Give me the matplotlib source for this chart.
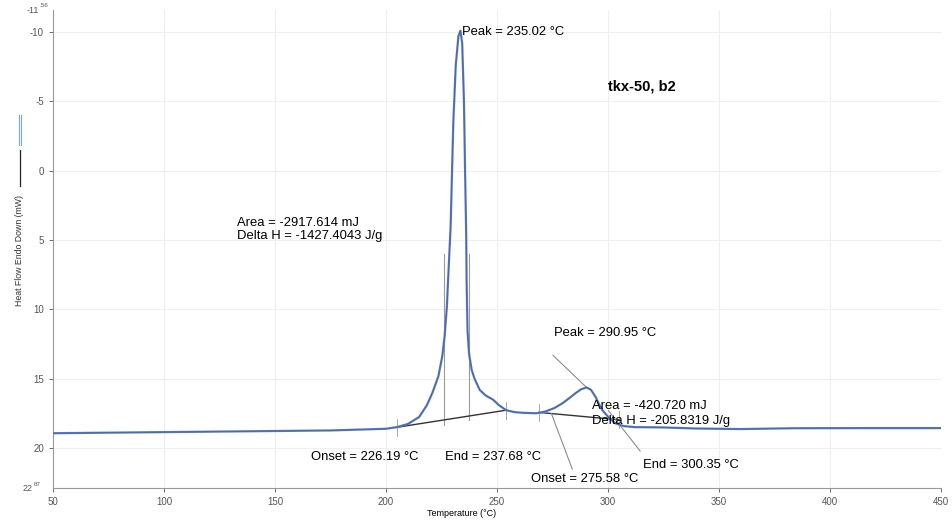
import matplotlib
matplotlib.use("Agg")
import matplotlib.pyplot as plt
from matplotlib.lines import Line2D

plt.rcParams['font.family'] = ['Liberation Sans', 'DejaVu Sans']
plt.rcParams['axes.unicode_minus'] = False

# DSC trace (temperature in C, heat flow in mW)
temperature = [50, 75, 100, 125, 150, 175, 200, 205, 210, 215, 218.5, 221, 223.7,
               225.5, 226.5, 227.5, 228.2, 229.2, 230.4, 231.5, 232.7, 233.6,
               234.4, 235.2, 235.7, 236.2, 236.4, 236.8, 237.5, 238.7, 240, 242.3,
               245, 248.3, 251, 254.2, 258, 262, 267.7, 269, 272, 276, 279.7, 283,
               285.5, 288, 290.5, 292.5, 294.5, 296, 297.6, 300.5, 303.4, 307, 312,
               324, 340, 360, 384, 420, 450]
heat_flow = [18.92, 18.88, 18.84, 18.8, 18.76, 18.72, 18.6, 18.48, 18.25, 17.75, 16.9,
             16.0, 14.8, 13.3, 11.9, 9.8, 7.35, 4.0, -3.5, -7.6, -9.7, -10.1,
             -9.2, -5.0, 0.0, 4.5, 8.0, 11.5, 13.2, 14.37, 15.0, 15.8,
             16.2, 16.5, 16.9, 17.26, 17.4, 17.45, 17.48, 17.45, 17.35, 17.1, 16.75, 16.35,
             16.03, 15.75, 15.62, 15.8, 16.3, 16.8, 17.26, 17.8, 18.2, 18.4, 18.48,
             18.5, 18.58, 18.62, 18.56, 18.55, 18.55]

# integration baselines
base1_t = [205.1, 254.2]
base1_h = [18.49, 17.26]
base2_t = [269.0, 305.0]
base2_h = [17.42, 17.95]

# onset / end markers of the first peak
marker_t = [226.19, 237.68]
marker_h = [18.3, 17.95]

x_ticks = [50, 100, 150, 200, 250, 300, 350, 400, 450]
y_ticks = [-10, -5, 0, 5, 10, 15, 20]

fig = plt.figure(figsize=(9.52, 5.21), dpi=100)
ax = fig.add_axes([0.0557, 0.0633, 0.9323, 0.9167])

ax.plot(temperature, heat_flow, color='#5a7cc2', lw=1.6, zorder=3)
ax.plot(temperature, heat_flow, color='#3a4f86', lw=0.5, alpha=0.6, zorder=3)

ax.plot(base1_t, base1_h, color='#333333', lw=1.0, zorder=2)
ax.plot(base2_t, base2_h, color='#333333', lw=1.0, zorder=2)

for t, h in zip(marker_t, marker_h):
    ax.plot([t, t], [h, 6.0], color='#9a9a9a', lw=0.8, zorder=1)

# little limit ticks
for t, h in zip(base1_t + base2_t, base1_h + base2_h):
    ax.plot([t, t], [h - 0.6, h + 0.6], color='#aaaaaa', lw=0.7, zorder=1)

# leader lines
lead = '#8c8c8c'
ax.plot([275.3, 290.3], [13.3, 15.6], color=lead, lw=0.8)
ax.plot([314.6, 300.35], [20.2, 17.3], color=lead, lw=0.8)
ax.plot([284.0, 274.6], [21.5, 17.5], color=lead, lw=0.8)

fs = 9.4
ax.text(234.4, -10.0, 'Peak = 235.02 °C', fontsize=fs, va='center', ha='left')
ax.text(300.3, -6.1, 'tkx-50, b2', fontsize=10.5, fontweight='bold', va='center')
ax.text(132.7, 3.74, 'Area = -2917.614 mJ', fontsize=fs, va='center')
ax.text(132.7, 4.7, 'Delta H = -1427.4043 J/g', fontsize=fs, va='center')
ax.text(275.7, 11.7, 'Peak = 290.95 °C', fontsize=fs, va='center')
ax.text(293.1, 16.97, 'Area = -420.720 mJ', fontsize=fs, va='center')
ax.text(293.1, 18.05, 'Delta H = -205.8319 J/g', fontsize=fs, va='center')
ax.text(166.2, 20.66, 'Onset = 226.19 °C', fontsize=fs, va='center')
ax.text(226.5, 20.66, 'End = 237.68 °C', fontsize=fs, va='center')
ax.text(265.4, 22.25, 'Onset = 275.58 °C', fontsize=fs, va='center')
ax.text(315.9, 21.24, 'End = 300.35 °C', fontsize=fs, va='center')

ax.set_xlim(50, 450)
ax.set_ylim(22.87, -11.56)
ax.set_xticks(x_ticks)
ax.set_yticks(y_ticks)
ax.tick_params(labelsize=7, colors='#555555', length=3, width=0.6)
ax.grid(True, color='#efefef', lw=0.8)
ax.set_axisbelow(True)
for side in ['top', 'right']:
    ax.spines[side].set_visible(False)
for side in ['left', 'bottom']:
    ax.spines[side].set_color('#999999')
    ax.spines[side].set_linewidth(0.8)

ax.set_xlabel('Temperature (°C)', fontsize=6.5)
ax.xaxis.set_label_coords(0.46, -0.044)

# range end labels on the y axis
ytr = ax.get_yaxis_transform()
ax.text(-0.016, -11.56, '-11', transform=ytr, fontsize=6.5, color='#555555',
        ha='right', va='center')
ax.text(-0.015, -11.9, '.56', transform=ytr, fontsize=4.5, color='#555555',
        ha='left', va='center')
ax.text(-0.023, 22.87, '22', transform=ytr, fontsize=6.5, color='#555555',
        ha='right', va='center')
ax.text(-0.022, 22.6, '87', transform=ytr, fontsize=4.5, color='#555555',
        ha='left', va='center')

# y label with the little legend strokes
fig.text(0.021, 0.52, 'Heat Flow Endo Down (mW)', rotation=90, fontsize=6.3,
         ha='center', va='center', color='#333333')
fig.add_artist(Line2D([0.0195, 0.0195], [1 - 145 / 521, 1 - 115 / 521],
                      color='#7aa6d8', lw=0.8))
fig.add_artist(Line2D([0.0225, 0.0225], [1 - 145 / 521, 1 - 115 / 521],
                      color='#7aa6d8', lw=0.8))
fig.add_artist(Line2D([0.021, 0.021], [1 - 186 / 521, 1 - 150 / 521],
                      color='#222222', lw=0.9))

fig.savefig('out.png', dpi=100)
